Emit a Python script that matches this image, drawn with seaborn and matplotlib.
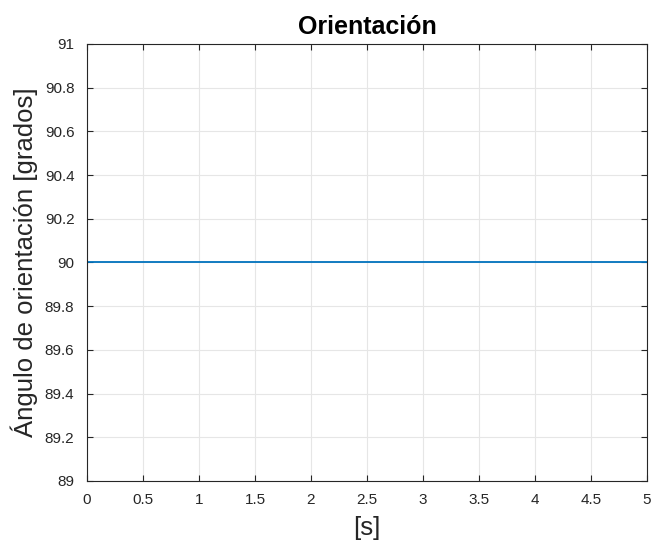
import matplotlib
matplotlib.use("Agg")
import matplotlib.pyplot as plt
import seaborn as sns
import pandas as pd

# Orientation signal over time
tiempo = [0.0, 1.0, 2.0, 3.0, 4.0, 5.0]
angulo = [90.0, 90.0, 90.0, 90.0, 90.0, 90.0]

x_ticks = [0, 0.5, 1, 1.5, 2, 2.5, 3, 3.5, 4, 4.5, 5]
x_tick_labels = ["0", "0.5", "1", "1.5", "2", "2.5", "3", "3.5", "4", "4.5", "5"]
y_ticks = [89, 89.2, 89.4, 89.6, 89.8, 90, 90.2, 90.4, 90.6, 90.8, 91]
y_tick_labels = ["89", "89.2", "89.4", "89.6", "89.8", "90", "90.2", "90.4", "90.6", "90.8", "91"]

sns.set_theme(style="white")
plt.rcParams["font.family"] = ["Liberation Sans", "DejaVu Sans"]

df = pd.DataFrame({"t": tiempo, "ang": angulo})

fig = plt.figure(figsize=(6.51, 5.49), dpi=100)
ax = fig.add_axes([0.1336, 0.1239, 0.8603, 0.7960])

sns.lineplot(data=df, x="t", y="ang", ax=ax, color=(0.0, 0.447, 0.741), linewidth=1.3)

ax.set_xlim(0, 5)
ax.set_ylim(89, 91)
ax.set_xticks(x_ticks)
ax.set_xticklabels(x_tick_labels)
ax.set_yticks(y_ticks)
ax.set_yticklabels(y_tick_labels)

ax.grid(True, color="#e6e6e6", linewidth=0.8)
ax.set_axisbelow(True)
for side in ["top", "right", "bottom", "left"]:
    ax.spines[side].set_visible(True)
    ax.spines[side].set_color("#262626")
    ax.spines[side].set_linewidth(0.8)

ax.tick_params(axis="both", which="both", direction="in", length=4, width=0.8,
               color="#262626", labelsize=11, labelcolor="#262626",
               top=True, right=True, bottom=True, left=True)
ax.tick_params(axis="y", pad=9)
ax.tick_params(axis="x", pad=9)

ax.set_xlabel("[s]", fontsize=18.5, color="#262626", labelpad=6)
ax.set_ylabel("Ángulo de orientación [grados]", fontsize=18.5, color="#262626", labelpad=5)
ax.set_title("Orientación", fontsize=18, fontweight="bold", color="black", pad=7)

fig.savefig("out.png", dpi=100)
